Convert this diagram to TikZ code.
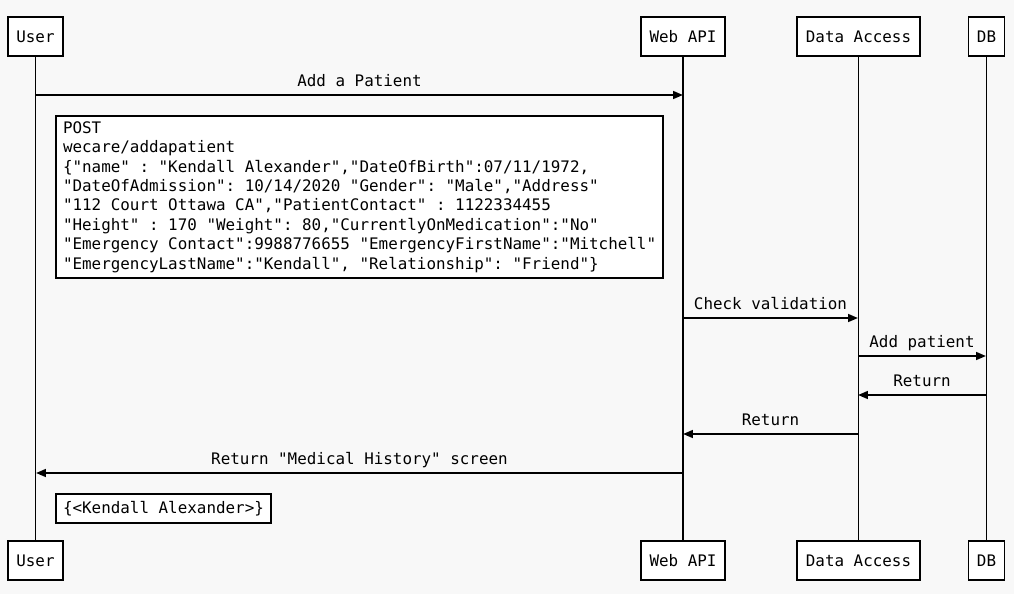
\documentclass[tikz,border=0pt]{standalone}
\usepackage{fontspec}
\setmonofont{DejaVu Sans Mono}
\usetikzlibrary{arrows.meta}
\definecolor{paper}{RGB}{248,248,248}

\begin{document}
\begin{tikzpicture}[x=0.025cm, y=-0.025cm, line width=1.4pt,
        >={Triangle[length=7pt,width=5.5pt]},
        every node/.style={font=\ttfamily\fontsize{11.3}{13.8}\selectfont},
        actor/.style={draw, fill=white, minimum height=0.975cm, inner xsep=6pt},
        msg/.style={above=5pt, inner sep=0pt, text depth=0pt},
        note/.style={draw, fill=white, anchor=north west, align=left, inner xsep=5pt, inner ysep=0pt}]
        \fill[paper] (0,0) rectangle (1014,594);
        \useasboundingbox (0,0) rectangle (1014,594);
        % participants
        \node[actor] (user) at (35.5,36.5) {User};
        \node[actor] (api) at (683,36.5) {Web API};
        \node[actor] (dal) at (858.5,36.5) {Data Access};
        \node[actor] (db) at (986.5,36.5) {DB};
        \node[actor] (userb) at (35.5,560.5) {User};
        \node[actor] (apib) at (683,560.5) {Web API};
        \node[actor] (dalb) at (858.5,560.5) {Data Access};
        \node[actor] (dbb) at (986.5,560.5) {DB};
        % lifelines
        \draw (user) -- (userb);
        \draw (api) -- (apib);
        \draw (dal) -- (dalb);
        \draw (db) -- (dbb);
        % messages
        \coordinate (u1) at (36,95);
        \coordinate (a1) at (683,95);
        \coordinate (a2) at (683,318);
        \coordinate (d2) at (858,318);
        \coordinate (d3) at (858,356);
        \coordinate (b3) at (986,356);
        \coordinate (b4) at (986,395);
        \coordinate (d4) at (858,395);
        \coordinate (d5) at (858,434);
        \coordinate (a5) at (683,434);
        \coordinate (a6) at (683,473);
        \coordinate (u6) at (36,473);
        \draw[->] (u1) -- (a1) node[midway, msg] {Add a Patient};
        \draw[->] (a2) -- (d2) node[midway, msg] {Check validation};
        \draw[->] (d3) -- (b3) node[midway, msg] {Add patient};
        \draw[->] (b4) -- (d4) node[midway, msg] {Return};
        \draw[->] (d5) -- (a5) node[midway, msg] {Return};
        \draw[->] (a6) -- (u6) node[midway, msg] {Return "Medical History" screen};
        % notes
        \node[note, minimum height=4.05cm] (req) at (55,115) {POST\\
            wecare/addapatient\\
            \{"name" : "Kendall Alexander","DateOfBirth":07/11/1972,\\
            "DateOfAdmission": 10/14/2020 "Gender": "Male","Address"\\
            "112 Court Ottawa CA","PatientContact" : 1122334455\\
            "Height" : 170 "Weight": 80,"CurrentlyOnMedication":"No"\\
            "Emergency Contact":9988776655 "EmergencyFirstName":"Mitchell"\\
            "EmergencyLastName":"Kendall", "Relationship": "Friend"\}};
        \node[note, minimum height=0.725cm] (res) at (55,493) {\{<Kendall Alexander>\}};
\end{tikzpicture}
\end{document}
